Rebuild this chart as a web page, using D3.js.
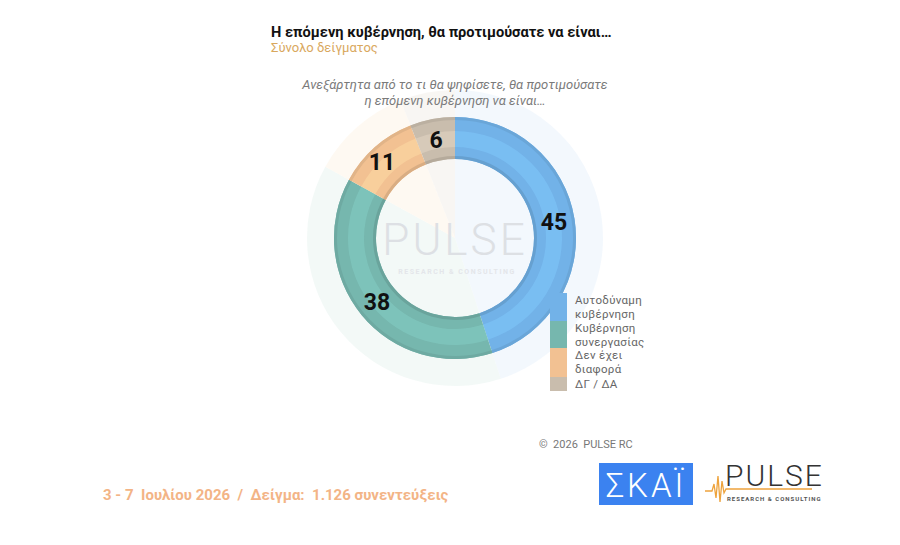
<!DOCTYPE html>
<meta charset="utf-8">
<title>Η επόμενη κυβέρνηση</title>
<script src="https://d3js.org/d3.v7.min.js"></script>
<style>
  body { margin: 0; background: #fff; }
  svg text { font-family: Roboto, "Noto Sans", sans-serif; white-space: pre; }
</style>
<div id="chart"></div>
<script>
// data
var categories = ["Αυτοδύναμη κυβέρνηση", "Κυβέρνηση συνεργασίας", "Δεν έχει διαφορά", "ΔΓ / ΔΑ"];
var legendLines = [["Αυτοδύναμη", "κυβέρνηση"], ["Κυβέρνηση", "συνεργασίας"], ["Δεν έχει", "διαφορά"], ["ΔΓ / ΔΑ"]];
var values = [45, 38, 11, 6];
var colors = ["#72b2e8", "#76b7ae", "#f2c192", "#c9bdad"];
var paleColors = ["#eef5fc", "#eef6f4", "#fdf7ec", "#f5f2ee"];

var width = 900, height = 545;
var cx = 455, cy = 238, rOut = 121, rIn = 79, rHalo = 148;

var svg = d3.select("#chart").append("svg")
  .attr("width", width).attr("height", height);

var pie = d3.pie().sort(null).value(function(d) { return d; });
var arcs = pie(values);

var g = svg.append("g").attr("transform", "translate(" + cx + "," + cy + ")");

// faint halo and faint centre
g.selectAll(".halo").data(arcs).enter().append("path")
  .attr("d", d3.arc().innerRadius(rOut).outerRadius(rHalo))
  .attr("fill", function(d, i) { return paleColors[i]; })
  .attr("opacity", 0.7);
g.selectAll(".core").data(arcs).enter().append("path")
  .attr("d", d3.arc().innerRadius(0).outerRadius(rIn))
  .attr("fill", function(d, i) { return paleColors[i]; })
  .attr("opacity", 0.7);

// main ring with a lighter band in the middle and darker edges
g.selectAll(".seg").data(arcs).enter().append("path")
  .attr("d", d3.arc().innerRadius(rIn).outerRadius(rOut))
  .attr("fill", function(d, i) { return colors[i]; });
g.selectAll(".edgeIn").data(arcs).enter().append("path")
  .attr("d", d3.arc().innerRadius(rIn).outerRadius(rIn + 3))
  .attr("fill", function(d, i) { return d3.color(colors[i]).darker(0.3); });
g.selectAll(".edgeOut").data(arcs).enter().append("path")
  .attr("d", d3.arc().innerRadius(rOut - 3).outerRadius(rOut))
  .attr("fill", function(d, i) { return d3.color(colors[i]).darker(0.2); });
g.selectAll(".band").data(arcs).enter().append("path")
  .attr("d", d3.arc().innerRadius(rIn + 12).outerRadius(rOut - 14))
  .attr("fill", function(d, i) { return d3.color(colors[i]).brighter(0.4); })
  .attr("opacity", 0.45);

// watermark
svg.append("text").attr("x", cx).attr("y", cy + 17)
  .attr("text-anchor", "middle").attr("font-size", 44).attr("font-weight", 300)
  .attr("fill", "#dde0e4").attr("letter-spacing", 3).text("PULSE");
svg.append("text").attr("x", cx + 2).attr("y", cy + 36)
  .attr("text-anchor", "middle").attr("font-size", 7).attr("font-weight", 700)
  .attr("fill", "#e4e6ea").attr("letter-spacing", 1.5).text("RESEARCH & CONSULTING");

// value labels
var labelPos = [[554, 222], [377, 302], [382, 162], [436, 140]];
svg.selectAll(".val").data(values).enter().append("text")
  .attr("x", function(d, i) { return labelPos[i][0]; })
  .attr("y", function(d, i) { return labelPos[i][1]; })
  .attr("text-anchor", "middle").attr("dominant-baseline", "central")
  .attr("font-size", 23).attr("font-weight", 700).attr("fill", "#111")
  .text(function(d) { return d; });

// titles
svg.append("text").attr("x", 271).attr("y", 37)
  .attr("font-size", 14.6).attr("font-weight", 700).attr("fill", "#111")
  .text("Η επόμενη κυβέρνηση, θα προτιμούσατε να είναι…");
svg.append("text").attr("x", 271).attr("y", 52)
  .attr("font-size", 13).attr("fill", "#d9a85e")
  .text("Σύνολο δείγματος");
svg.append("text").attr("x", 455).attr("y", 89)
  .attr("text-anchor", "middle").attr("font-size", 13).attr("font-style", "italic").attr("fill", "#7a7a7a")
  .text("Ανεξάρτητα από το τι θα ψηφίσετε, θα προτιμούσατε");
svg.append("text").attr("x", 455).attr("y", 105)
  .attr("text-anchor", "middle").attr("font-size", 13).attr("font-style", "italic").attr("fill", "#7a7a7a")
  .text("η επόμενη κυβέρνηση να είναι…");

// legend
var legY = [293, 321, 348, 377], legH = [28, 27, 29, 14];
var leg = svg.append("g");
categories.forEach(function(c, i) {
  leg.append("rect").attr("x", 550).attr("y", legY[i]).attr("width", 17).attr("height", legH[i])
    .attr("fill", colors[i]);
  legendLines[i].forEach(function(l, j) {
    leg.append("text").attr("x", 575).attr("y", legY[i] + 11 + j * 14)
      .attr("font-size", 11.5).attr("fill", "#666").attr("letter-spacing", 0.3).text(l);
  });
});

// footer
svg.append("text").attr("x", 539).attr("y", 448)
  .attr("font-size", 11).attr("fill", "#777").text("©  2026  PULSE RC");
svg.append("text").attr("x", 103).attr("y", 500)
  .attr("font-size", 15).attr("font-weight", 700).attr("fill", "#f3b486")
  .attr("font-family", "'Open Sans', sans-serif")
  .text("3 - 7  Ιουλίου 2026  /  Δείγμα:  1.126 συνεντεύξεις");

// logos
svg.append("rect").attr("x", 599).attr("y", 463).attr("width", 94).attr("height", 42).attr("fill", "#3b82f0");
svg.append("text").attr("x", 646).attr("y", 497).attr("text-anchor", "middle")
  .attr("font-size", 33).attr("font-weight", 300).attr("fill", "#fff").attr("letter-spacing", 3).text("ΣΚΑΪ");
svg.append("path")
  .attr("d", "M705,491 L712,491 L714,484 L716,498 L718,476 L720,502 L722,481 L724,493 L726,489 L812,489")
  .attr("fill", "none").attr("stroke", "#eea33c").attr("stroke-width", 1.3);
svg.append("text").attr("x", 725).attr("y", 486)
  .attr("font-size", 30).attr("font-weight", 300).attr("fill", "#333").attr("letter-spacing", 2).text("PULSE");
svg.append("text").attr("x", 727).attr("y", 501)
  .attr("font-size", 6).attr("font-weight", 700).attr("fill", "#555").attr("letter-spacing", 1).text("RESEARCH & CONSULTING");
</script>
